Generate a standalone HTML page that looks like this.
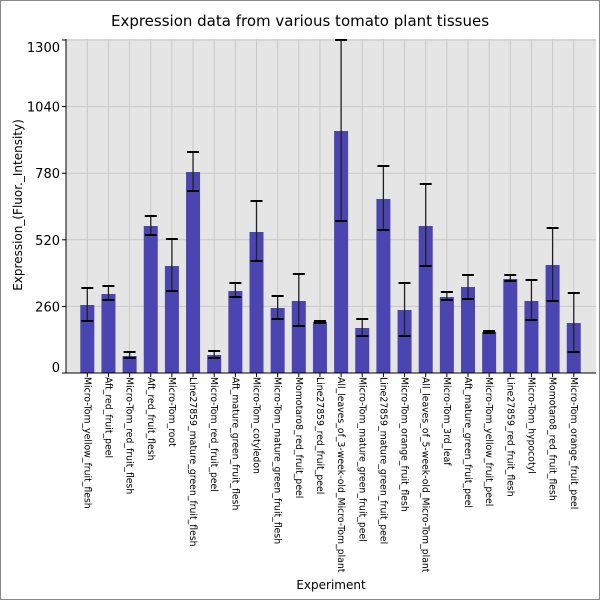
<!DOCTYPE html>
<html><head><meta charset="utf-8"><style>html,body{margin:0;padding:0;background:#fff}svg{display:block}</style></head>
<body>
<svg id="s" width="600" height="600" xmlns="http://www.w3.org/2000/svg" font-family="DejaVu Sans, Liberation Sans, sans-serif">
<rect x="0.5" y="0.5" width="599" height="599" fill="#fff" stroke="#888"/>
<rect x="66" y="39" width="530" height="334" fill="#e5e5e5"/>
<g id="grid" stroke="#c8c8c8" stroke-width="1"></g>
<g id="bars"></g>
<line x1="66" y1="39" x2="66" y2="373" stroke="#000"/>
<line x1="66" y1="373" x2="596" y2="373" stroke="#000"/>
<g id="yt" font-size="13" text-anchor="end" fill="#000"></g>
<g id="xl" font-size="9.3" fill="#000"></g>
<text x="300" y="26" font-size="15" text-anchor="middle">Expression data from various tomato plant tissues</text>
<text x="331" y="589" font-size="12" text-anchor="middle">Experiment</text>
<text transform="translate(22,205) rotate(-90)" font-size="12" text-anchor="middle">Expression_(Fluor._Intensity)</text>
</svg>
<script>
var NS="http://www.w3.org/2000/svg";
function el(p,t,a,txt){var e=document.createElementNS(NS,t);for(var k in a)e.setAttribute(k,a[k]);if(txt)e.textContent=txt;document.getElementById(p).appendChild(e);return e;}
var names=["Micro-Tom_yellow_fruit_flesh","Aft_red_fruit_peel","Micro-Tom_red_fruit_flesh","Aft_red_fruit_flesh","Micro-Tom_root","Line27859_mature_green_fruit_flesh","Micro-Tom_red_fruit_peel","Aft_mature_green_fruit_flesh","Micro-Tom_cotyledon","Micro-Tom_mature_green_fruit_flesh","Momotaro8_red_fruit_peel","Line27859_red_fruit_peel","All_leaves_of_3-week-old_Micro-Tom_plant","Micro-Tom_mature_green_fruit_peel","Line27859_mature_green_fruit_peel","Micro-Tom_orange_fruit_flesh","All_leaves_of_5-week-old_Micro-Tom_plant","Micro-Tom_3rd_leaf","Aft_mature_green_fruit_peel","Micro-Tom_yellow_fruit_peel","Line27859_red_fruit_flesh","Micro-Tom_hypocotyl","Momotaro8_red_fruit_flesh","Micro-Tom_orange_fruit_peel"];
var d=[[305,288,321],[294,286,300],[356,352,358],[226,216,235],[266,239,291],[172,152,191],[355,351,358],[291,283,297],[232,201,261],[308,296,319],[301,274,326],[322,321,323],[131,40,221],[328,319,336],[199,166,230],[310,283,336],[226,184,266],[297,292,300],[287,275,299],[332,331,333],[279,275,281],[301,280,320],[265,228,301],[323,293,352]];
for(var v=0;v<=1300;v+=260){var y=373-v*333/1300;el("grid","line",{x1:66,x2:596,y1:y,y2:y});
 el("grid","line",{x1:62,x2:66,y1:y,y2:y,stroke:"#000"});
 var ty=y+5; if(v==0)ty=y-1; if(v==1300)ty=y+12;
 el("yt","text",{x:60,y:ty},String(v));}
for(var i=0;i<24;i++){var x=87.3+i*21.15;
 el("grid","line",{x1:x,x2:x,y1:39,y2:373});
 el("bars","rect",{x:x-7,y:d[i][0],width:14,height:373-d[i][0],fill:"#4b45b2"});
 el("bars","line",{x1:x,x2:x,y1:d[i][1],y2:d[i][2],stroke:"#222","stroke-width":1.3});
 el("bars","line",{x1:x-6,x2:x+6,y1:d[i][1],y2:d[i][1],stroke:"#000","stroke-width":2});
 el("bars","line",{x1:x-6,x2:x+6,y1:d[i][2],y2:d[i][2],stroke:"#000","stroke-width":2});
 el("bars","line",{x1:x,x2:x,y1:373,y2:377,stroke:"#000"});
 el("xl","text",{transform:"translate("+(x-3)+",377) rotate(90)"},names[i]);}
</script>
</body></html>
